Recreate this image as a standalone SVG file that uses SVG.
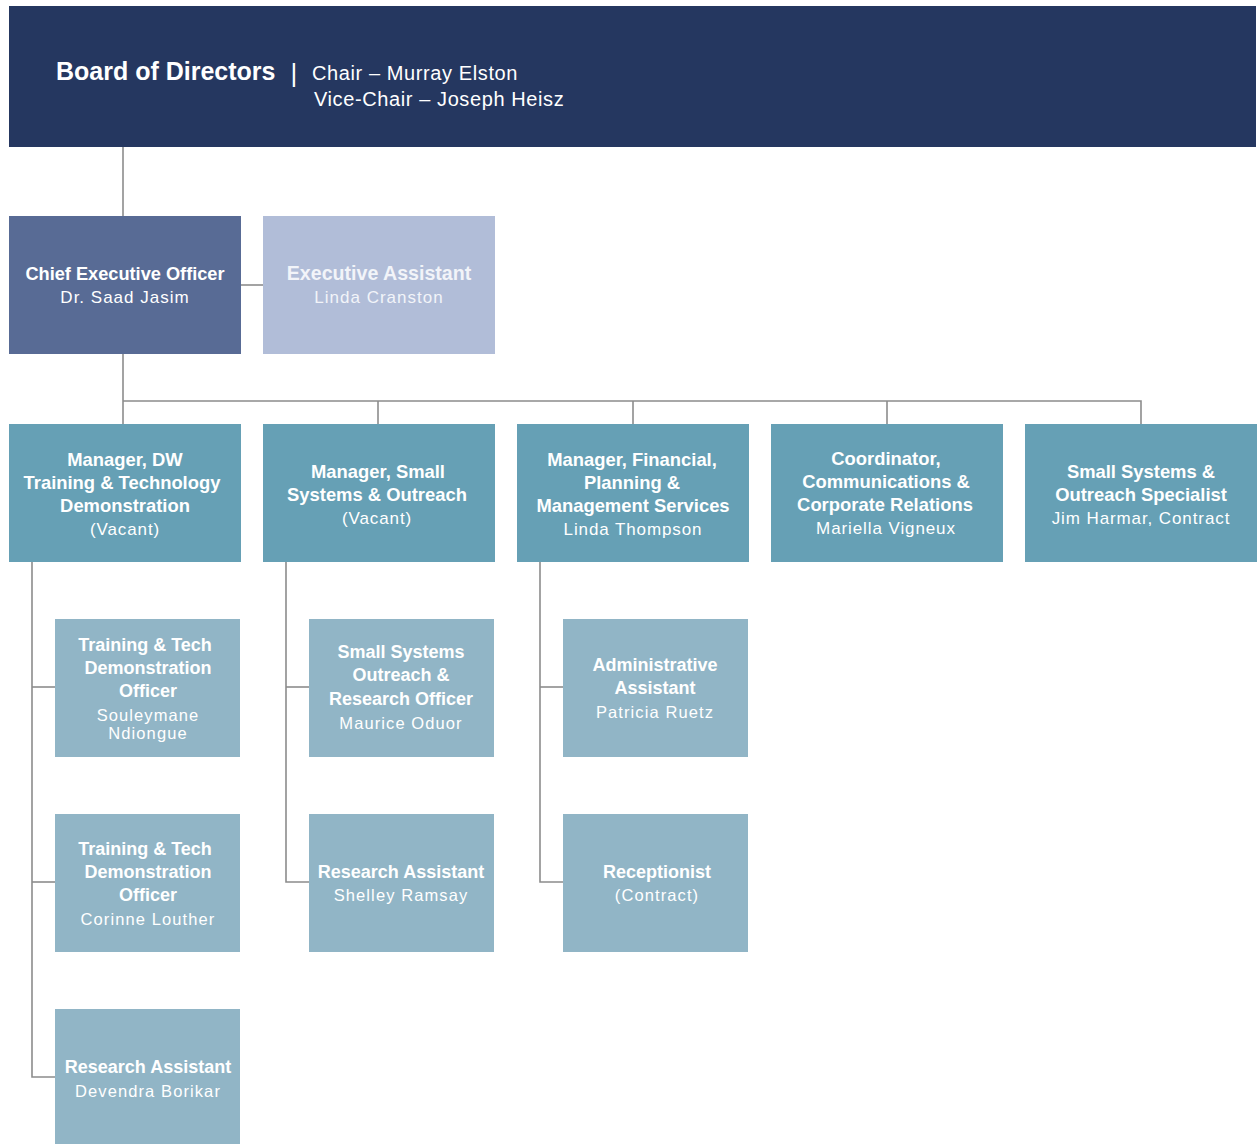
<svg xmlns="http://www.w3.org/2000/svg" width="1259" height="1144" viewBox="0 0 1259 1144">
<style>
text{font-family:"Liberation Sans",Arial,sans-serif;fill:#ffffff;text-anchor:middle}
.b{font-weight:bold}
.mgr{fill:#66a0b5}
.sub{fill:#91b5c6}
.mt{font-size:18.4px}
.mn{font-size:17px;letter-spacing:0.9px}
.st{font-size:18px}
.sn{font-size:16.5px;letter-spacing:1.1px}
.conn{fill:none;stroke:#8c8c8c;stroke-width:1.6}
</style>
<rect width="1259" height="1144" fill="#ffffff"/>
<g id="connectors" class="conn">
<path d="M123 147V216"/>
<path d="M241 285H263"/>
<path d="M123 354V424"/>
<path d="M123 401H1141V424"/>
<path d="M378 401V424"/>
<path d="M633 401V424"/>
<path d="M887 401V424"/>
<path d="M32 562V1077H55"/>
<path d="M32 687H55"/>
<path d="M32 882H55"/>
<path d="M286 562V882H309"/>
<path d="M286 687H309"/>
<path d="M540 562V882H563"/>
<path d="M540 687H563"/>
</g>
<g id="board">
<rect x="9" y="6" width="1247" height="141" fill="#253760"/>
<text x="56" y="80" class="b" style="font-size:25px;text-anchor:start">Board of Directors</text>
<text x="294" y="82" style="font-size:26px;font-weight:300">|</text>
<text x="312" y="80" style="font-size:20px;letter-spacing:0.6px;text-anchor:start">Chair – Murray Elston</text>
<text x="314" y="106" style="font-size:20px;letter-spacing:0.6px;text-anchor:start">Vice-Chair – Joseph Heisz</text>
</g>
<g id="ceo">
<rect x="9" y="216" width="232" height="138" fill="#586b95"/>
<text x="125" y="280" class="b" style="font-size:18.2px">Chief Executive Officer</text>
<text x="125" y="303" style="font-size:17px;letter-spacing:1px">Dr. Saad Jasim</text>
</g>
<g id="exec-assistant">
<rect x="263" y="216" width="232" height="138" fill="#b1bdd8"/>
<text x="379" y="280" class="b" style="font-size:19.6px;fill:#f2f4f9">Executive Assistant</text>
<text x="379" y="303" style="font-size:17px;letter-spacing:1px;fill:#f2f4f9">Linda Cranston</text>
</g>
<g id="mgr-dw">
<rect class="mgr" x="9" y="424" width="232" height="138"/>
<text x="125" y="466" class="b mt">Manager, DW</text>
<text x="122" y="489" class="b mt">Training &amp; Technology</text>
<text x="125" y="512" class="b mt">Demonstration</text>
<text x="125" y="535" class="mn">(Vacant)</text>
</g>
<g id="mgr-small">
<rect class="mgr" x="263" y="424" width="232" height="138"/>
<text x="378" y="478" class="b mt">Manager, Small</text>
<text x="377" y="501" class="b mt">Systems &amp; Outreach</text>
<text x="377" y="524" class="mn">(Vacant)</text>
</g>
<g id="mgr-fin">
<rect class="mgr" x="517" y="424" width="232" height="138"/>
<text x="632" y="466" class="b mt">Manager, Financial,</text>
<text x="632" y="489" class="b mt">Planning &amp;</text>
<text x="633" y="512" class="b mt">Management Services</text>
<text x="633" y="535" class="mn">Linda Thompson</text>
</g>
<g id="coord">
<rect class="mgr" x="771" y="424" width="232" height="138"/>
<text x="886" y="465" class="b mt">Coordinator,</text>
<text x="886" y="488" class="b mt">Communications &amp;</text>
<text x="885" y="511" class="b mt">Corporate Relations</text>
<text x="886" y="534" class="mn">Mariella Vigneux</text>
</g>
<g id="specialist">
<rect class="mgr" x="1025" y="424" width="232" height="138"/>
<text x="1141" y="478" class="b mt">Small Systems &amp;</text>
<text x="1141" y="501" class="b mt">Outreach Specialist</text>
<text x="1141" y="524" class="mn">Jim Harmar, Contract</text>
</g>
<g id="ttdo-1">
<rect class="sub" x="55" y="619" width="185" height="138"/>
<text x="145" y="651" class="b st">Training &amp; Tech</text>
<text x="148" y="674" class="b st">Demonstration</text>
<text x="148" y="697" class="b st">Officer</text>
<text x="148" y="721" class="sn">Souleymane</text>
<text x="148" y="739" class="sn">Ndiongue</text>
</g>
<g id="ttdo-2">
<rect class="sub" x="55" y="814" width="185" height="138"/>
<text x="145" y="855" class="b st">Training &amp; Tech</text>
<text x="148" y="878" class="b st">Demonstration</text>
<text x="148" y="901" class="b st">Officer</text>
<text x="148" y="925" class="sn">Corinne Louther</text>
</g>
<g id="ra-devendra">
<rect class="sub" x="55" y="1009" width="185" height="135"/>
<text x="148" y="1073" class="b st">Research Assistant</text>
<text x="148" y="1097" class="sn">Devendra Borikar</text>
</g>
<g id="ssoro">
<rect class="sub" x="309" y="619" width="185" height="138"/>
<text x="401" y="658" class="b st">Small Systems</text>
<text x="401" y="681" class="b st">Outreach &amp;</text>
<text x="401" y="705" class="b st">Research Officer</text>
<text x="401" y="729" class="sn">Maurice Oduor</text>
</g>
<g id="ra-shelley">
<rect class="sub" x="309" y="814" width="185" height="138"/>
<text x="401" y="878" class="b st">Research Assistant</text>
<text x="401" y="901" class="sn">Shelley Ramsay</text>
</g>
<g id="admin">
<rect class="sub" x="563" y="619" width="185" height="138"/>
<text x="655" y="671" class="b st">Administrative</text>
<text x="655" y="694" class="b st">Assistant</text>
<text x="655" y="718" class="sn">Patricia Ruetz</text>
</g>
<g id="receptionist">
<rect class="sub" x="563" y="814" width="185" height="138"/>
<text x="657" y="878" class="b st">Receptionist</text>
<text x="657" y="901" class="sn">(Contract)</text>
</g>
</svg>
